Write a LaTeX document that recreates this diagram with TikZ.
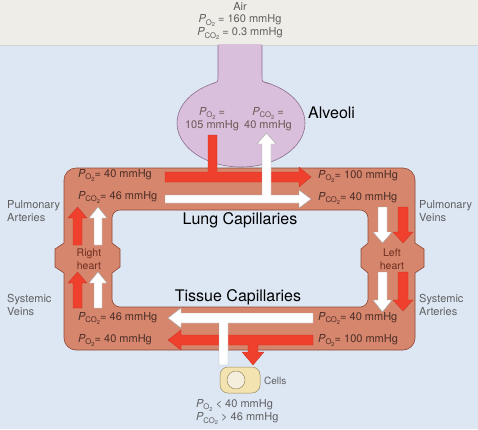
\documentclass[tikz,border=0pt]{standalone}
\usepackage{fontspec}
\usepackage{graphicx}
\setmainfont{TeX Gyre Heros}
\definecolor{bluebg}{RGB}{221,231,244}
\definecolor{topbg}{RGB}{238,237,231}
\definecolor{vesselfill}{RGB}{214,134,108}
\definecolor{vesselline}{RGB}{140,72,56}
\definecolor{arrowred}{RGB}{239,64,46}
\definecolor{arrowredline}{RGB}{200,50,36}
\definecolor{alvfill}{RGB}{217,191,220}
\definecolor{alvline}{RGB}{140,110,140}
\definecolor{cellfill}{RGB}{243,227,176}
\definecolor{cellline}{RGB}{156,138,92}
\definecolor{nucfill}{RGB}{245,238,221}
\definecolor{labelgray}{RGB}{95,95,95}
\definecolor{vesseltext}{RGB}{75,45,40}
\definecolor{hearttext}{RGB}{110,46,34}
\newcommand\Po{\textit{P}\kern-0.02em\raisebox{-0.45ex}{\scalebox{0.7}{O\raisebox{-0.35ex}{\scalebox{0.75}{2}}}}}
\newcommand\Pco{\textit{P}\kern-0.02em\raisebox{-0.45ex}{\scalebox{0.7}{CO\raisebox{-0.35ex}{\scalebox{0.75}{2}}}}}
\tikzset{
  lbl/.style={font=\fontsize{11}{13.5}\selectfont, text=labelgray, align=left, inner sep=0, anchor=west},
  vtxt/.style={font=\fontsize{11}{12}\selectfont, text=vesseltext, inner sep=0, anchor=west},
  ctxt/.style={font=\fontsize{11}{12}\selectfont, text=labelgray, inner sep=0, align=center},
  hearttxt/.style={font=\fontsize{10.5}{12.5}\selectfont, text=hearttext, inner sep=0, align=center},
  bigtxt/.style={font=\fontsize{16}{18}\selectfont, inner sep=0},
  redarrow/.style={fill=arrowred, draw=arrowredline, line width=0.3pt, line join=miter},
  whitearrow/.style={fill=white, draw=gray!70, line width=0.4pt, line join=miter},
  vessel/.style={fill=vesselfill, draw=vesselline, line width=0.6pt, even odd rule},
  alv/.style={fill=alvfill},
  alvedge/.style={draw=alvline, line width=0.6pt},
}
\begin{document}
\begin{tikzpicture}[x=1pt,y=-1pt]
\useasboundingbox (0,0) rectangle (478,429);
% backgrounds
\fill[topbg] (0,0) rectangle (478,45);
\fill[bluebg] (0,45) rectangle (478,429);
\draw[gray!35, line width=0.4pt] (0,45) -- (478,45);
% alveoli
\path[alv, alvedge] (241,123) ellipse [x radius=64pt, y radius=44pt];
\fill[alvfill] (218,44) rectangle (262,95);
\fill[alvfill] (218,76) .. controls (218,82) .. (212,83.8) -- (218,92) -- cycle;
\fill[alvfill] (262,76) .. controls (262,82) .. (270,83.8) -- (262,92) -- cycle;
\draw[alvedge] (218,45) -- (218,76) .. controls (218,82) .. (212,83.8);
\draw[alvedge] (262,45) -- (262,76) .. controls (262,82) .. (270,83.8);
% vessel loop
\path[vessel]
 (76,168) -- (403,168) .. controls (409.6,168) and (415,173.4) .. (415,180)
 -- (415,243) -- (424,249) -- (424,267) -- (415,273)
 -- (415,338) .. controls (415,344.6) and (409.6,350) .. (403,350)
 -- (76,350) .. controls (69.4,350) and (64,344.6) .. (64,338)
 -- (64,273) -- (55,267) -- (55,249) -- (64,243)
 -- (64,180) .. controls (64,173.4) and (69.4,168) .. (76,168) -- cycle
 (120,210) -- (360,210) .. controls (364.4,210) and (368,213.6) .. (368,218)
 -- (368,243) -- (361,249) -- (361,267) -- (368,273)
 -- (368,299) .. controls (368,303.4) and (364.4,307) .. (360,307)
 -- (120,307) .. controls (115.6,307) and (112,303.4) .. (112,299)
 -- (112,273) -- (120,267) -- (120,249) -- (112,243)
 -- (112,218) .. controls (112,213.6) and (115.6,210) .. (120,210) -- cycle;
% top arrows
\path[redarrow] (208,135) -- (217,135) -- (217,172) -- (299,172) -- (299,167) -- (311,177) -- (299,187) -- (299,182) -- (165,182) -- (165,172) -- (208,172) -- cycle;
\path[whitearrow] (165,195) -- (262,195) -- (262,144) -- (257,144) -- (266.5,133) -- (276,144) -- (271,144) -- (271,195) -- (299,195) -- (299,190) -- (311,199) -- (299,208) -- (299,203) -- (165,203) -- cycle;
% left verticals
\path[redarrow] (73,245) -- (73,218) -- (68,218) -- (77.5,207) -- (87,218) -- (82,218) -- (82,245) -- cycle;
\path[whitearrow] (94,245) -- (94,218) -- (89,218) -- (98,207) -- (107,218) -- (102,218) -- (102,245) -- cycle;
\path[redarrow] (73,308) -- (73,283) -- (68,283) -- (77.5,272) -- (87,283) -- (82,283) -- (82,308) -- cycle;
\path[whitearrow] (94,308) -- (94,283) -- (89,283) -- (98,272) -- (107,283) -- (102,283) -- (102,308) -- cycle;
% right verticals
\path[whitearrow] (378,207) -- (387,207) -- (387,232) -- (392,232) -- (382.5,243) -- (373,232) -- (378,232) -- cycle;
\path[redarrow] (398,207) -- (408,207) -- (408,232) -- (413,232) -- (403,243) -- (393,232) -- (398,232) -- cycle;
\path[whitearrow] (378,272) -- (387,272) -- (387,300) -- (392,300) -- (382.5,312) -- (373,300) -- (378,300) -- cycle;
\path[redarrow] (398,272) -- (408,272) -- (408,300) -- (413,300) -- (403,311) -- (393,300) -- (398,300) -- cycle;
% bottom arrows
\path[redarrow] (313,335) -- (313,345) -- (258,345) -- (258,352) -- (264,352) -- (253,365) -- (242,352) -- (248,352) -- (248,345) -- (181,345) -- (181,350) -- (168,340) -- (181,330) -- (181,335) -- cycle;
\path[whitearrow] (313,313) -- (313,323) -- (228,323) -- (228,365) -- (219,365) -- (219,323) -- (181,323) -- (181,328) -- (168,318) -- (181,308) -- (181,313) -- cycle;
% cell
\path[fill=cellfill, draw=cellline, line width=0.5pt, rounded corners=8pt] (220,367) rectangle (260,393);
\path[fill=nucfill, draw=cellline!80!gray, line width=0.5pt] (236,380) circle [radius=9pt];
% texts
\node[ctxt] (air) at (240,21) {Air\\\Po{} = 160 mmHg\\\Pco{} = 0.3 mmHg};
\node[ctxt, text=vesseltext!80] (alvO) at (212,119) {\Po{} =\\105 mmHg};
\node[ctxt, text=vesseltext!80] (alvC) at (268,119) {\Pco{} =\\40 mmHg};
\node[bigtxt, anchor=west] (alveoli) at (308,113) {Alveoli};
\node[vtxt] (tlO) at (78,175) {\Po{}= 40 mmHg};
\node[vtxt] (tlC) at (78,197) {\Pco{}= 46 mmHg};
\node[vtxt] (trO) at (318,176) {\Po{}= 100 mmHg};
\node[vtxt] (trC) at (318,198) {\Pco{}= 40 mmHg};
\node[vtxt] (blC) at (78,318) {\Pco{}= 46 mmHg};
\node[vtxt] (blO) at (78,340) {\Po{}= 40 mmHg};
\node[vtxt] (brC) at (318,318) {\Pco{}= 40 mmHg};
\node[vtxt] (brO) at (318,340) {\Po{}= 100 mmHg};
\node[bigtxt] (lung) at (240,220) {Lung Capillaries};
\node[bigtxt] (tissue) at (238,297) {Tissue Capillaries};
\node[lbl] (pa) at (7,211) {Pulmonary\\Arteries};
\node[lbl] (pv) at (419,211) {Pulmonary\\Veins};
\node[lbl] (sv) at (7,305) {Systemic\\Veins};
\node[lbl] (sa) at (419,305) {Systemic\\Arteries};
\node[hearttxt] (rh) at (89,259) {Right\\heart};
\node[hearttxt] (lh) at (392,259) {Left\\heart};
\node[lbl, font=\fontsize{10}{12}\selectfont] (cells) at (264,381) {Cells};
\node[lbl, align=left] (cellp) at (196,412) {\Po{} < 40 mmHg\\\Pco{} > 46 mmHg};
\end{tikzpicture}
\end{document}
